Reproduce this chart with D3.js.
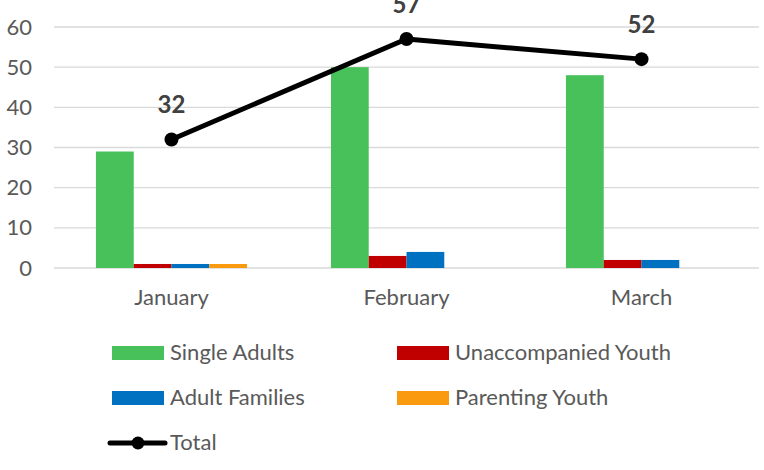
<!DOCTYPE html>
<html><head><meta charset="utf-8">
<script src="https://cdn.jsdelivr.net/npm/d3@7"></script>
<style>body{margin:0;background:#fff}svg{display:block}</style>
</head><body>
<svg id="c" width="764" height="470"></svg>
<script>
const categories = ["January", "February", "March"];
const seriesNames = ["Single Adults", "Unaccompanied Youth", "Adult Families", "Parenting Youth"];
const singleAdults = [29, 50, 48];
const unaccompaniedYouth = [1, 3, 2];
const adultFamilies = [1, 4, 2];
const parentingYouth = [1, 0, 0];
const total = [32, 57, 52];
const yTicks = [0, 10, 20, 30, 40, 50, 60];
const colors = ["#48c15b", "#c00000", "#0070c0", "#fa9a0f"];

const series = [singleAdults, unaccompaniedYouth, adultFamilies, parentingYouth];
const FONT = "Lato, 'Open Sans', sans-serif";
const svg = d3.select("#c");
const L = 54, R = 759, T = 27, B = 268;

const x0 = d3.scaleBand().domain(categories).range([L, R]).paddingInner(0.357).paddingOuter(0.1785);
const x1 = d3.scaleBand().domain(seriesNames).range([0, x0.bandwidth()]);
const y = d3.scaleLinear().domain([0, 60]).range([B, T]);

// gridlines
svg.append("g").selectAll("line").data(yTicks).join("line")
  .attr("x1", L).attr("x2", R)
  .attr("y1", d => y(d)).attr("y2", d => y(d))
  .attr("stroke", "#d9d9d9").attr("stroke-width", 1.3);

// y axis labels
const yAxis = d3.axisLeft(y).tickValues(yTicks).tickSize(0).tickPadding(0);
const ga = svg.append("g").attr("transform", `translate(32,0)`).call(yAxis);
ga.select(".domain").remove();
ga.selectAll("text").attr("font-family", FONT).attr("font-size", 22).attr("fill", "#595959");

// x axis labels
const xAxis = d3.axisBottom(x0).tickSize(0).tickPadding(0);
const gx = svg.append("g").attr("transform", `translate(0,${B})`).call(xAxis);
gx.select(".domain").remove();
gx.selectAll("text").attr("font-family", FONT).attr("font-size", 22).attr("fill", "#595959")
  .attr("dy", null).attr("y", 37);

// bars
const g = svg.append("g");
categories.forEach((c, i) => {
  seriesNames.forEach((s, j) => {
    const v = series[j][i];
    if (v <= 0) return;
    g.append("rect")
      .attr("x", x0(c) + x1(s)).attr("width", x1.bandwidth())
      .attr("y", y(v)).attr("height", y(0) - y(v))
      .attr("fill", colors[j]);
  });
});

// total line
const cx = c => x0(c) + x0.bandwidth() / 2;
const line = d3.line().x((d, i) => cx(categories[i])).y(d => y(d));
svg.append("path").datum(total).attr("d", line)
  .attr("fill", "none").attr("stroke", "#000").attr("stroke-width", 5).attr("stroke-linejoin", "round");
svg.append("g").selectAll("circle").data(total).join("circle")
  .attr("cx", (d, i) => cx(categories[i])).attr("cy", d => y(d)).attr("r", 7).attr("fill", "#000");
svg.append("g").selectAll("text").data(total).join("text")
  .attr("x", (d, i) => cx(categories[i])).attr("y", d => y(d) - 26)
  .attr("text-anchor", "middle").attr("font-family", FONT).attr("font-weight", "bold")
  .attr("font-size", 24).attr("fill", "#404040").text(d => d);

// legend
const legendItems = [
  {name: seriesNames[0], color: colors[0], x: 112, y: 346},
  {name: seriesNames[1], color: colors[1], x: 397, y: 346},
  {name: seriesNames[2], color: colors[2], x: 112, y: 391},
  {name: seriesNames[3], color: colors[3], x: 397, y: 391}
];
const lg = svg.append("g");
legendItems.forEach(it => {
  lg.append("rect").attr("x", it.x).attr("y", it.y).attr("width", 52).attr("height", 14).attr("fill", it.color);
  lg.append("text").attr("x", it.x + 58).attr("y", it.y + 14).attr("font-family", FONT)
    .attr("font-size", 22).attr("fill", "#595959").text(it.name);
});
lg.append("line").attr("x1", 110).attr("x2", 165).attr("y1", 443).attr("y2", 443)
  .attr("stroke", "#000").attr("stroke-width", 5).attr("stroke-linecap", "round");
lg.append("circle").attr("cx", 138).attr("cy", 443).attr("r", 6.5).attr("fill", "#000");
lg.append("text").attr("x", 170).attr("y", 450).attr("font-family", FONT)
  .attr("font-size", 22).attr("fill", "#595959").text("Total");
</script>
</body></html>
